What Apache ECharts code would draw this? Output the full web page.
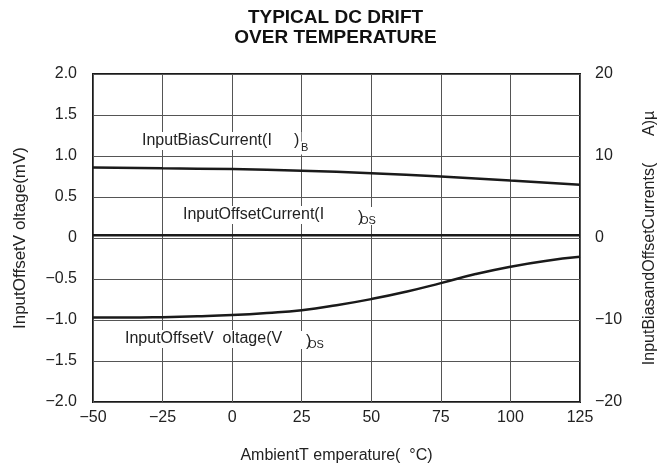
<!DOCTYPE html>
<html>
<head>
<meta charset="utf-8">
<script src="https://cdn.jsdelivr.net/npm/echarts@6/dist/echarts.min.js"></script>
<style>
  html, body { margin: 0; padding: 0; background: #fff; }
  #chart { width: 671px; height: 470px; }
</style>
</head>
<body>
<div id="chart"></div>
<script>
// ambient temperature (°C)
var temps = [-50, -37.5, -25, -12.5, 0, 12.5, 25, 37.5, 50, 62.5, 75, 87.5, 100, 112.5, 125]
// input offset voltage, mV (left axis)
var offsetVoltage = [-0.97, -0.97, -0.965, -0.955, -0.94, -0.915, -0.88, -0.82, -0.745, -0.655, -0.55, -0.44, -0.35, -0.28, -0.23]
// input bias current, uA (right axis)
var biasTemps = [-50, -25, 0, 25, 50, 75, 100, 125]
var biasCurrent = [8.6, 8.5, 8.4, 8.2, 7.9, 7.5, 7.0, 6.5]
// input offset current, uA (right axis)
var offsetCurrent = [0.35, 0.35, 0.35, 0.35, 0.35, 0.35, 0.35, 0.35]

var xTicks = ['−50', '−25', '0', '25', '50', '75', '100', '125']
var leftTicks = { '2': '2.0', '1.5': '1.5', '1': '1.0', '0.5': '0.5', '0': '0', '-0.5': '−0.5', '-1': '−1.0', '-1.5': '−1.5', '-2': '−2.0' }
var rightTicks = { '20': '20', '10': '10', '0': '0', '-10': '−10', '-20': '−20' }

var font = 'Liberation Sans, Arial, sans-serif'
var ink = '#222'

function pairs (xs, ys) {
  return xs.map(function (x, i) { return [x, ys[i]] })
}

// text piece inside the plot; boxed ones break the grid lines behind them
function label (x, y, text, size, boxed) {
  return {
    type: 'text',
    x: x,
    y: y,
    z: boxed ? 100 : 101,
    style: {
      text: text,
      fontFamily: font,
      fontSize: size,
      fill: ink,
      verticalAlign: 'middle',
      backgroundColor: boxed ? '#fff' : null,
      padding: [1, 2, 1, 2]
    }
  }
}

var chart = echarts.init(document.getElementById('chart'))

chart.setOption({
  animation: false,
  backgroundColor: '#fff',
  title: {
    text: 'TYPICAL DC DRIFT\nOVER TEMPERATURE',
    left: 'center',
    top: 3,
    textStyle: { fontFamily: font, fontSize: 19, fontWeight: 'bold', color: '#111', lineHeight: 20 }
  },
  grid: {
    left: 93,
    right: 91,
    top: 74,
    bottom: 68,
    show: true,
    borderColor: '#1a1a1a',
    borderWidth: 2
  },
  xAxis: {
    type: 'value',
    min: -50,
    max: 125,
    interval: 25,
    name: 'AmbientT emperature(  °C)',
    nameLocation: 'middle',
    nameGap: 46,
    nameTextStyle: { fontFamily: font, fontSize: 16, color: ink },
    axisLine: { show: false },
    axisTick: { show: false },
    axisLabel: {
      margin: 8,
      fontFamily: font,
      fontSize: 16,
      color: ink,
      formatter: function (v) { return xTicks[(v + 50) / 25] }
    },
    splitLine: { show: true, lineStyle: { color: '#555', width: 1 } }
  },
  yAxis: [
    {
      type: 'value',
      min: -2,
      max: 2,
      interval: 0.5,
      name: 'InputOffsetV oltage(mV)',
      nameLocation: 'middle',
      nameGap: 64,
      nameRotate: 90,
      nameTextStyle: { fontFamily: font, fontSize: 17, color: ink },
      axisLine: { show: false },
      axisTick: { show: false },
      axisLabel: {
        margin: 16,
        fontFamily: font,
        fontSize: 16,
        color: ink,
        formatter: function (v) { return leftTicks[String(v)] }
      },
      splitLine: { show: true, lineStyle: { color: '#555', width: 1 } }
    },
    {
      type: 'value',
      min: -20,
      max: 20,
      interval: 10,
      position: 'right',
      name: 'InputBiasandOffsetCurrents(      A)µ',
      nameLocation: 'middle',
      nameGap: 62,
      nameRotate: 90,
      nameTextStyle: { fontFamily: font, fontSize: 16, color: ink },
      axisLine: { show: false },
      axisTick: { show: false },
      axisLabel: {
        margin: 15,
        fontFamily: font,
        fontSize: 16,
        color: ink,
        formatter: function (v) { return rightTicks[String(v)] }
      },
      splitLine: { show: false }
    }
  ],
  series: [
    {
      name: 'Input Offset Voltage',
      type: 'line',
      yAxisIndex: 0,
      smooth: true,
      symbol: 'none',
      lineStyle: { color: '#1a1a1a', width: 2.5 },
      data: pairs(temps, offsetVoltage)
    },
    {
      name: 'Input Bias Current',
      type: 'line',
      yAxisIndex: 1,
      smooth: true,
      symbol: 'none',
      lineStyle: { color: '#1a1a1a', width: 2.5 },
      data: pairs(biasTemps, biasCurrent)
    },
    {
      name: 'Input Offset Current',
      type: 'line',
      yAxisIndex: 1,
      smooth: true,
      symbol: 'none',
      lineStyle: { color: '#1a1a1a', width: 2.5 },
      data: pairs(biasTemps, offsetCurrent)
    }
  ],
  graphic: [
    label(140, 141, 'InputBiasCurrent(I', 16, true),
    label(292, 141, ')', 16, true),
    label(299, 148, 'B', 11, true),
    label(181, 215, 'InputOffsetCurrent(I', 16, true),
    label(352, 216, '        ', 16, true),
    label(356, 218, ')', 16, false),
    label(358, 221, 'OS', 11, false),
    label(123, 339, 'InputOffsetV  oltage(V', 16, true),
    label(300, 340, '        ', 16, true),
    label(304, 342, ')', 16, false),
    label(306, 345, 'OS', 11, false)
  ]
})
</script>
</body>
</html>
